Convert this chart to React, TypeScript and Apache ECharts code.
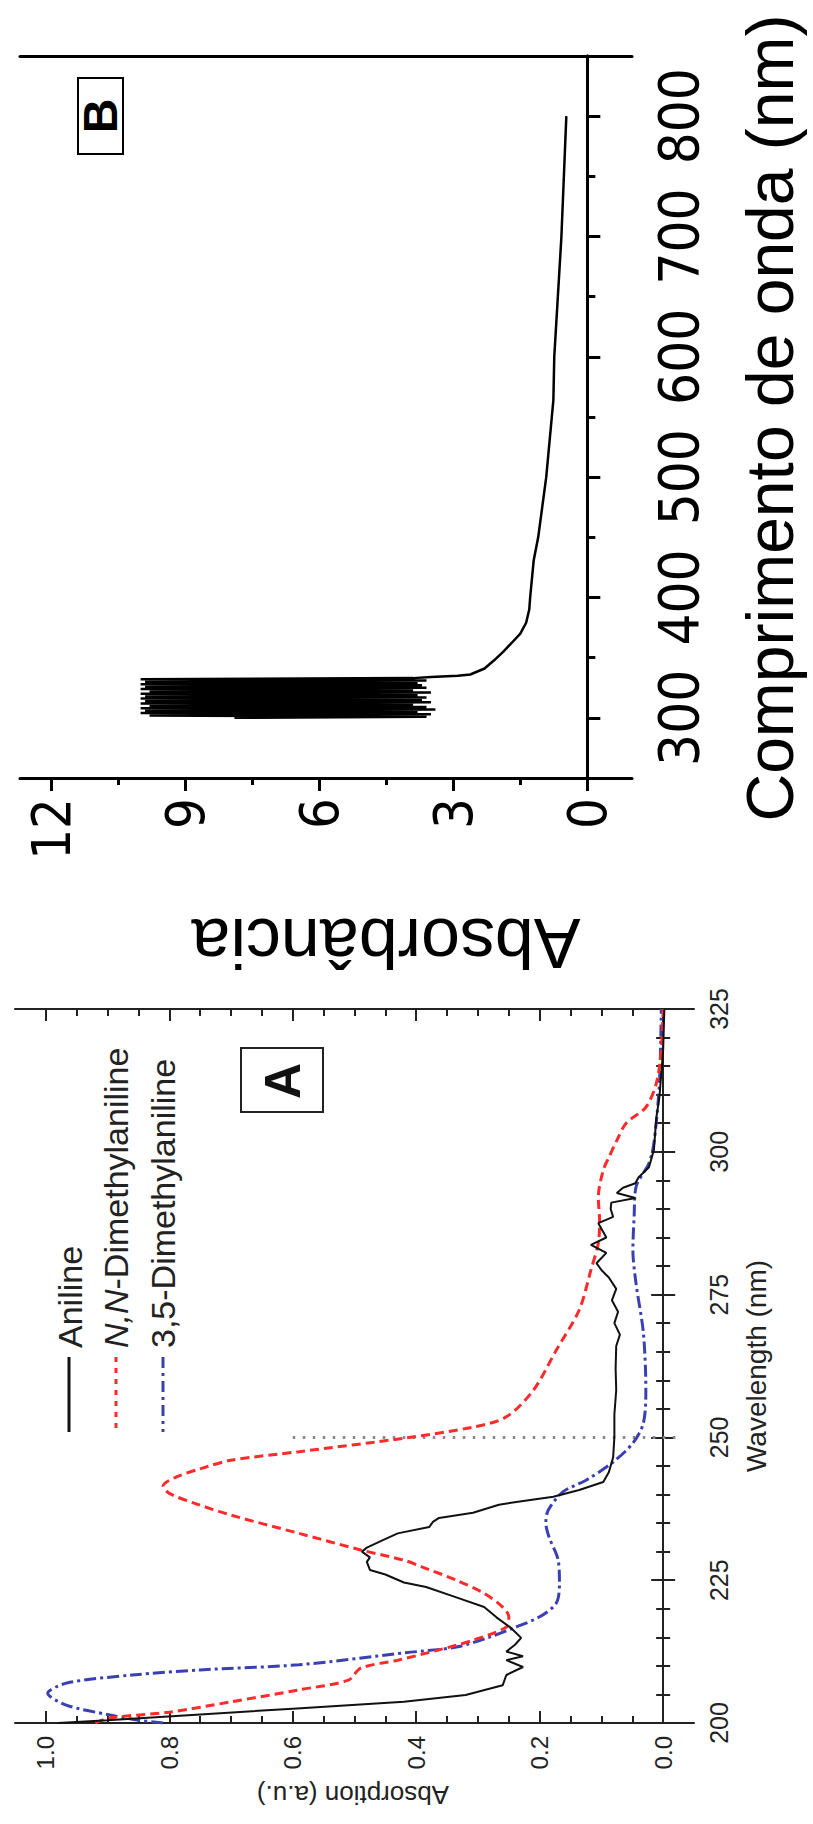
import React, { useEffect, useRef } from 'react';
import * as echarts from 'echarts';

// ---------- Panel A data (wavelength nm, absorption a.u.) ----------
const ANILINE_WL = [200,200.5,201.5,202.5,203.7,204.9,206.6,208.4,209.8,211,211.7,212.5,213.7,214.9,216.6,218.5,220.3,222,223.8,224.6,226,226.8,228.2,229,230,230.7,232,233.2,234.3,235.2,235.9,236.8,238.2,238.7,239.6,240.8,242.2,243.9,246.5,250,254,258.3,262,266,268,270,272,274,276,278,279.3,280.5,282.3,283.7,285,287.5,288.6,290,291.1,291.9,292.8,293.7,294.5,295.5,297.3,300.3,306,309.6,317.8,325];
const ANILINE_ABS = [0.98,0.9,0.75,0.6,0.42,0.32,0.26,0.254,0.227,0.254,0.227,0.254,0.24,0.23,0.246,0.27,0.29,0.335,0.384,0.42,0.45,0.475,0.48,0.475,0.488,0.48,0.454,0.43,0.379,0.373,0.363,0.308,0.266,0.238,0.178,0.136,0.097,0.088,0.081,0.079,0.079,0.076,0.077,0.076,0.07,0.079,0.073,0.083,0.076,0.088,0.1,0.108,0.092,0.117,0.092,0.105,0.081,0.085,0.084,0.045,0.075,0.065,0.045,0.04,0.023,0.015,0.011,0.006,0.0,-0.002];

const NN_WL = [200,200.9,201.9,203.7,205.8,207.5,209.6,211,212.8,214.5,216.8,218.6,220.3,222.7,225,227.3,228.5,230.3,233.2,236.4,238.5,240.2,241.5,243,244.5,246,247.5,249.9,251.8,253.6,258.3,265.3,272.3,279.3,284,288,292,296.8,299,302,305,307.8,312,317.8,325];
const NN_ABS = [0.92,0.896,0.8,0.7,0.59,0.51,0.49,0.43,0.363,0.308,0.254,0.25,0.26,0.29,0.335,0.39,0.42,0.49,0.59,0.7,0.76,0.8,0.81,0.79,0.75,0.7,0.59,0.417,0.308,0.254,0.21,0.173,0.136,0.117,0.105,0.103,0.105,0.097,0.088,0.075,0.06,0.028,0.011,0.003,0.0];

const DM35_WL = [200,200.5,201.4,203.1,205.2,207,208.4,209.3,210.2,212.3,213.3,215,216.6,218.6,221,224.5,228.5,232.6,235,237.3,240.5,242.5,245.7,249,252.5,258.3,268.3,277,282.8,288.6,293.8,298,301.5,312,325];
const DM35_ABS = [0.81,0.85,0.896,0.966,0.997,0.966,0.86,0.75,0.59,0.417,0.335,0.282,0.243,0.2,0.173,0.168,0.17,0.185,0.19,0.186,0.162,0.125,0.081,0.049,0.032,0.028,0.032,0.044,0.049,0.047,0.044,0.023,0.015,0.006,0.003];

const GUIDE_WL = [250, 250];
const GUIDE_ABS = [0.6, -0.03];

const A_ABS_TICKS = [0, 0.2, 0.4, 0.6, 0.8, 1.0];
const A_ABS_MINOR = [0.05, 0.1, 0.15, 0.25, 0.3, 0.35, 0.45, 0.5, 0.55, 0.65, 0.7, 0.75, 0.85, 0.9, 0.95];
const A_WL_TICKS = [200, 225, 250, 275, 300, 325];
const A_WL_MINOR = [205, 210, 215, 220, 230, 235, 240, 245, 255, 260, 265, 270, 280, 285, 290, 295, 305, 310, 315, 320];

const LEGEND_NAMES = ['Aniline', 'N,N-Dimethylaniline', '3,5-Dimethylaniline'];

// ---------- Panel B data (wavelength nm, absorbance) ----------
const B_WL = [300,301,302,303,304,305,306,307,308,309,310,311,312,313,314,315,316,317,318,319,320,321,322,323,324,325,326,327,328,329,330,331,332,333,334,335,336,341,348,355,362,370,379,390,400,431,450,500,564,600,700,800];
const B_ABS = [7.9,3.6,9.8,3.5,10,3.8,9.9,3.4,10,3.6,9.8,3.9,10,3.5,9.9,3.7,10,3.6,9.9,3.8,10,3.5,9.8,3.9,10,3.6,9.9,3.7,10,3.8,9.9,3.6,10,3.9,3.5,2.9,2.62,2.3,2.08,1.88,1.7,1.5,1.37,1.3,1.28,1.2,1.1,0.92,0.76,0.74,0.58,0.47];

const B_ABS_TICKS = [0, 3, 6, 9, 12];
const B_ABS_MINOR = [1.5, 4.5, 7.5, 10.5];
const B_WL_TICKS = [300, 400, 500, 600, 700, 800];
const B_WL_MINOR = [350, 450, 550, 650, 750];

const FONT = "'Liberation Sans', Arial, Helvetica, sans-serif";
const NARROW = "'Liberation Sans Narrow', 'DejaVu Sans Condensed', 'Liberation Sans', sans-serif";

const pairs = (abs: number[], wl: number[]) => wl.map((w, i) => [abs[i], w]);

export default function App() {
  const ref = useRef<HTMLDivElement>(null);

  useEffect(() => {
    if (!ref.current) return;
    const chart = echarts.init(ref.current, undefined, { renderer: 'svg' });

    const aX = { type: 'value', gridIndex: 0, min: -0.05, max: 1.05, inverse: true, splitLine: { show: false } };
    const aY = { type: 'value', gridIndex: 0, min: 200, max: 325, splitLine: { show: false } };
    const bX = { type: 'value', gridIndex: 1, min: -1, max: 12.7, inverse: true, splitLine: { show: false } };
    const bY = { type: 'value', gridIndex: 1, min: 250, max: 850, splitLine: { show: false } };
    const lineA = { show: true, lineStyle: { color: '#222', width: 2 } };
    const lineB = { show: true, lineStyle: { color: '#000', width: 3 } };
    const noLine = { show: false };
    const noLabel = { show: false };
    const tk = (vals: number[], len: number, inside: boolean, w: number, c: string) => ({
      show: true, inside, length: len, customValues: vals, lineStyle: { color: c, width: w },
    });

    const option: any = {
      animation: false,
      backgroundColor: '#fff',
      grid: [
        { left: 15, top: 1009, width: 679, height: 714, containLabel: false },
        { left: 20, top: 56, width: 612, height: 722, containLabel: false },
      ],
      xAxis: [
        { ...aX, position: 'bottom', axisLine: lineA, axisTick: tk(A_ABS_TICKS, 12, true, 2, '#222'),
          axisLabel: { show: true, customValues: A_ABS_TICKS, rotate: 90, margin: 13, fontSize: 24, fontFamily: FONT, color: '#222', formatter: (v: number) => v.toFixed(1) } },
        { ...aX, position: 'bottom', axisLine: noLine, axisTick: tk(A_ABS_MINOR, 7, true, 2, '#222'), axisLabel: noLabel },
        { ...aX, position: 'top', axisLine: lineA, axisTick: tk(A_ABS_TICKS, 12, true, 2, '#222'), axisLabel: noLabel },
        { ...aX, position: 'top', axisLine: noLine, axisTick: tk(A_ABS_MINOR, 7, true, 2, '#222'), axisLabel: noLabel },
        { ...bX, position: 'bottom', axisLine: lineB, axisTick: tk(B_ABS_TICKS, 13, false, 3, '#000'),
          axisLabel: { show: true, customValues: B_ABS_TICKS, rotate: 90, margin: 20, fontSize: 54, fontFamily: NARROW, color: '#000', formatter: (v: number) => String(v) } },
        { ...bX, position: 'bottom', axisLine: noLine, axisTick: tk(B_ABS_MINOR, 7, false, 3, '#000'), axisLabel: noLabel },
        { ...bX, position: 'top', axisLine: lineB, axisTick: { show: false }, axisLabel: noLabel },
      ],
      yAxis: [
        { ...aY, position: 'right', axisLine: lineA, axisTick: tk(A_WL_TICKS, 12, true, 2, '#222'),
          axisLabel: { show: true, customValues: A_WL_TICKS, rotate: 90, margin: 12, fontSize: 25, fontFamily: FONT, color: '#222', formatter: (v: number) => String(v) } },
        { ...aY, position: 'right', axisLine: noLine, axisTick: tk(A_WL_MINOR, 7, true, 2, '#222'), axisLabel: noLabel },
        { ...aY, position: 'left', axisLine: lineA, axisTick: tk(A_WL_TICKS, 12, true, 2, '#222'), axisLabel: noLabel },
        { ...aY, position: 'left', axisLine: noLine, axisTick: tk(A_WL_MINOR, 7, true, 2, '#222'), axisLabel: noLabel },
        { ...bY, position: 'right', axisLine: lineB, axisTick: tk(B_WL_TICKS, 13, false, 3, '#000'),
          axisLabel: { show: true, customValues: B_WL_TICKS, rotate: 90, margin: 18, fontSize: 56, fontFamily: NARROW, color: '#000', formatter: (v: number) => String(v) } },
        { ...bY, position: 'right', axisLine: noLine, axisTick: tk(B_WL_MINOR, 8, false, 3, '#000'), axisLabel: noLabel },
        { ...bY, position: 'left', axisLine: lineB, axisTick: { show: false }, axisLabel: noLabel },
      ],
      series: [
        { type: 'line', name: 'guide', xAxisIndex: 0, yAxisIndex: 0, data: pairs(GUIDE_ABS, GUIDE_WL), symbol: 'none',
          lineStyle: { color: '#888', width: 3, type: [2.5, 7.5] }, z: 1 },
        { type: 'line', name: LEGEND_NAMES[2], xAxisIndex: 0, yAxisIndex: 0, data: pairs(DM35_ABS, DM35_WL), symbol: 'none', smooth: 0.3,
          lineStyle: { color: '#3a40b4', width: 3, type: [12, 4, 3, 4] }, z: 2 },
        { type: 'line', name: LEGEND_NAMES[1], xAxisIndex: 0, yAxisIndex: 0, data: pairs(NN_ABS, NN_WL), symbol: 'none', smooth: 0.3,
          lineStyle: { color: '#ff2a2a', width: 3, type: [9, 5] }, z: 3 },
        { type: 'line', name: LEGEND_NAMES[0], xAxisIndex: 0, yAxisIndex: 0, data: pairs(ANILINE_ABS, ANILINE_WL), symbol: 'none',
          lineStyle: { color: '#111', width: 2 }, z: 4 },
        { type: 'line', name: 'B', xAxisIndex: 4, yAxisIndex: 4, data: pairs(B_ABS, B_WL), symbol: 'none',
          lineStyle: { color: '#000', width: 2.5 }, z: 4 },
      ],
      graphic: [
        // Panel B texts
        { type: 'text', x: 770, y: 418, rotation: Math.PI / 2,
          style: { text: 'Comprimento de onda (nm)', fontSize: 66, fontFamily: FONT, fill: '#000', align: 'center', verticalAlign: 'middle' } },
        { type: 'text', x: 386, y: 943, rotation: Math.PI,
          style: { text: 'Absorbância', fontSize: 70, fontFamily: FONT, fill: '#000', align: 'center', verticalAlign: 'middle' } },
        { type: 'rect', shape: { x: 78, y: 78, width: 45, height: 76 }, style: { fill: '#fff', stroke: '#000', lineWidth: 2 } },
        { type: 'text', x: 100, y: 116, rotation: Math.PI / 2,
          style: { text: 'B', fontSize: 48, fontWeight: 'bold', fontFamily: FONT, fill: '#000', align: 'center', verticalAlign: 'middle' } },
        // Panel A texts
        { type: 'rect', shape: { x: 241, y: 1048, width: 82, height: 64 }, style: { fill: '#fff', stroke: '#222', lineWidth: 2 } },
        { type: 'text', x: 283, y: 1081, rotation: Math.PI / 2,
          style: { text: 'A', fontSize: 50, fontWeight: 'bold', fontFamily: FONT, fill: '#111', align: 'center', verticalAlign: 'middle' } },
        { type: 'text', x: 353, y: 1795, rotation: Math.PI,
          style: { text: 'Absorption (a.u.)', fontSize: 26, fontFamily: FONT, fill: '#222', align: 'center', verticalAlign: 'middle' } },
        { type: 'text', x: 756, y: 1366, rotation: Math.PI / 2,
          style: { text: 'Wavelength (nm)', fontSize: 28, fontFamily: FONT, fill: '#222', align: 'center', verticalAlign: 'middle' } },
        // Legend
        { type: 'line', shape: { x1: 69, y1: 1357, x2: 69, y2: 1432 }, style: { stroke: '#111', lineWidth: 3 } },
        { type: 'line', shape: { x1: 116, y1: 1357, x2: 116, y2: 1432 }, style: { stroke: '#ff2a2a', lineWidth: 3, lineDash: [5, 6] } },
        { type: 'line', shape: { x1: 163, y1: 1357, x2: 163, y2: 1432 }, style: { stroke: '#3a40b4', lineWidth: 3, lineDash: [11, 5, 3, 5] } },
        { type: 'text', x: 70, y: 1348, rotation: Math.PI / 2,
          style: { text: LEGEND_NAMES[0], fontSize: 34, fontFamily: FONT, fill: '#222', align: 'left', verticalAlign: 'middle' } },
        { type: 'text', x: 116, y: 1348, rotation: Math.PI / 2,
          style: { text: '{i|N,N}-Dimethylaniline', fontSize: 34, fontFamily: FONT, fill: '#222', align: 'left', verticalAlign: 'middle',
            rich: { i: { fontStyle: 'italic', fontSize: 34, fontFamily: FONT, fill: '#222' } } } },
        { type: 'text', x: 163, y: 1348, rotation: Math.PI / 2,
          style: { text: LEGEND_NAMES[2], fontSize: 34, fontFamily: FONT, fill: '#222', align: 'left', verticalAlign: 'middle' } },
      ],
    };

    chart.setOption(option);
    return () => chart.dispose();
  }, []);

  return <div ref={ref} style={{ position: 'absolute', left: 0, top: 0, width: 813, height: 1824 }} />;
}
